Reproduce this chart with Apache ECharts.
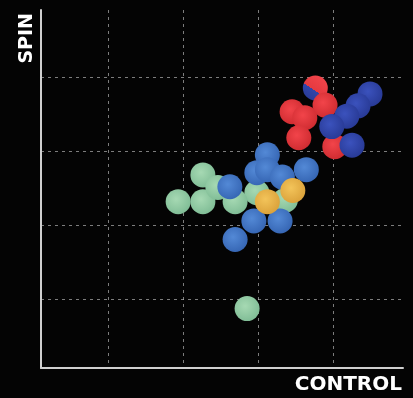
<!DOCTYPE html>
<html>
<head>
<meta charset="utf-8">
<script src="https://cdn.jsdelivr.net/npm/echarts@6/dist/echarts.min.js"></script>
<style>
    html, body { margin: 0; padding: 0; background: #040404; }
    #main { width: 413px; height: 398px; }
</style>
</head>
<body>
<div id="main"></div>
<script>
// [control, spin] for each ball
var greenBalls = [[2.26, 2.68], [1.93, 2.32], [2.26, 2.32], [2.46, 2.51], [2.98, 2.44], [3.36, 2.34], [2.69, 2.32], [2.85, 0.88]];
var blueBalls = [[3.12, 2.95], [2.98, 2.71], [3.12, 2.75], [3.32, 2.65], [3.64, 2.75], [2.62, 2.52], [2.94, 2.06], [3.29, 2.06], [2.69, 1.81]];
var yellowBalls = [[3.46, 2.47], [3.12, 2.32]];
var redBalls = [[3.45, 3.53], [3.62, 3.45], [3.54, 3.18], [3.89, 3.62], [4.02, 3.06]];
var redBlueBalls = [[3.76, 3.85]];
var navyBalls = [[4.49, 3.77], [4.33, 3.61], [4.18, 3.47], [3.98, 3.33], [4.25, 3.08]];

function ball(light, dark) {
    return new echarts.graphic.RadialGradient(0.42, 0.4, 0.62, [
        { offset: 0, color: light },
        { offset: 1, color: dark }
    ]);
}

function ballSeries(name, data, color) {
    return {
        name: name,
        type: 'scatter',
        symbolSize: 25,
        data: data,
        itemStyle: { color: color, opacity: 1 },
        emphasis: { disabled: true }
    };
}

var gridLine = { color: 'rgba(190,190,190,0.65)', type: [3, 4], width: 1 };

var myChart = echarts.init(document.getElementById('main'));
var option = {
    backgroundColor: '#040404',
    animation: false,
    grid: { left: 41, right: 10, top: 10, bottom: 30 },
    xAxis: {
        type: 'value',
        min: 0.1,
        max: 4.93,
        minInterval: 1,
        maxInterval: 1,
        name: 'CONTROL',
        nameLocation: 'end',
        nameGap: -1,
        nameTextStyle: {
            color: '#ffffff', fontFamily: 'DejaVu Sans', fontWeight: 'bold', fontSize: 20,
            align: 'right', verticalAlign: 'top', padding: [7, 0, 0, 0]
        },
        axisLine: { lineStyle: { color: '#cfcfcf', width: 2 } },
        axisTick: { show: false },
        axisLabel: { show: false },
        splitLine: { showMinLine: false, showMaxLine: false, lineStyle: gridLine }
    },
    yAxis: {
        type: 'value',
        min: 0.08,
        max: 4.9,
        minInterval: 1,
        maxInterval: 1,
        name: 'SPIN',
        nameLocation: 'end',
        nameRotate: 90,
        nameGap: -3,
        nameTextStyle: {
            color: '#ffffff', fontFamily: 'DejaVu Sans', fontWeight: 'bold', fontSize: 19,
            align: 'right', verticalAlign: 'bottom', padding: [0, 0, 4, 0]
        },
        axisLine: { lineStyle: { color: '#cfcfcf', width: 2 } },
        axisTick: { show: false },
        axisLabel: { show: false },
        splitLine: { showMinLine: false, showMaxLine: false, lineStyle: gridLine }
    },
    series: [
        ballSeries('green', greenBalls, ball('#a6d9b3', '#80bd96')),
        ballSeries('blue', blueBalls, ball('#5389d6', '#3666b4')),
        ballSeries('yellow', yellowBalls, ball('#f3c45a', '#dba23b')),
        // half red, half navy ball, sits behind the red ones
        ballSeries('red-blue', redBlueBalls, new echarts.graphic.LinearGradient(0.78, 0.08, 0.22, 0.92, [
            { offset: 0, color: '#f2444a' },
            { offset: 0.6, color: '#e53a40' },
            { offset: 0.6, color: '#3045aa' },
            { offset: 1, color: '#2a3c98' }
        ])),
        ballSeries('red', redBalls, ball('#f2444a', '#cf2c31')),
        ballSeries('navy', navyBalls, ball('#3b52bd', '#283a96'))
    ]
};
myChart.setOption(option);

window.onresize = function() {
    myChart.resize();
};
</script>
</body>
</html>
